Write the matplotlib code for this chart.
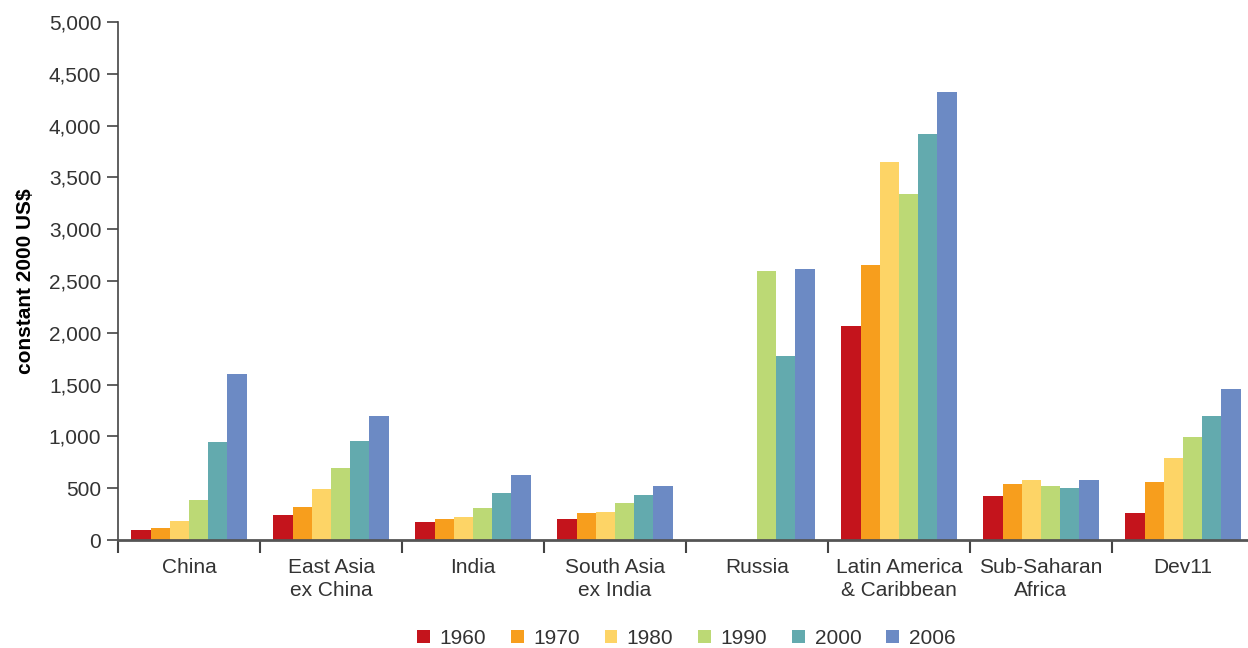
import numpy as np
import matplotlib.pyplot as plt
from matplotlib.ticker import FuncFormatter

# ================================
# DATA
# ================================
regions = ["China", "East Asia\nex China", "India", "South Asia\nex India",
           "Russia", "Latin America\n& Caribbean", "Sub-Saharan\nAfrica", "Dev11"]
years = ["1960", "1970", "1980", "1990", "2000", "2006"]

v1960 = [100, 245, 177, 206, np.nan, 2069, 428, 264]
v1970 = [119, 322, 206, 264, np.nan, 2658, 544, 563]
v1980 = [187, 496, 225, 274, np.nan, 3652, 582, 795]
v1990 = [389, 698, 312, 360, 2600, 3343, 525, 998]
v2000 = [949, 959, 457, 438, 1780, 3922, 505, 1200]
v2006 = [1600, 1200, 631, 525, 2619, 4327, 582, 1461]

series = [v1960, v1970, v1980, v1990, v2000, v2006]
colors = ["#C4141C", "#F79E1D", "#FDD466", "#BCD975", "#63AAAE", "#6C8AC4"]

# ================================
# PLOT
# ================================
plt.rcParams['font.family'] = ['Liberation Sans', 'DejaVu Sans']

fig = plt.figure(figsize=(12.48, 6.48), dpi=100)
# plot area runs a little past the right edge, as in the original
ax = fig.add_axes([118/1248, 108/648, 1136/1248, (540 - 22)/648])

x = np.arange(len(regions)) + 0.5
w = 0.135
for i, (vals, c, yr) in enumerate(zip(series, colors, years)):
    ax.bar(x + (i - 2.5) * w, vals, width=w, color=c, label=yr, linewidth=0)

ax.set_xlim(0, len(regions))
ax.set_ylim(0, 5000)
ax.set_yticks(np.arange(0, 5001, 500))
ax.yaxis.set_major_formatter(FuncFormatter(lambda v, p: f"{int(v):,}"))

ax.set_xticks(np.arange(0, len(regions) + 1))
ax.set_xticklabels([])
ax.set_xticks(x, minor=True)
ax.set_xticklabels(regions, minor=True, linespacing=1.25)
ax.tick_params(axis='x', which='minor', length=0, pad=13, labelsize=15, labelcolor='#333333')
ax.tick_params(axis='x', which='major', length=9, width=1.5, color='#444444', direction='out')
ax.tick_params(axis='y', length=8, width=1.2, color='#444444', labelsize=15,
               labelcolor='#333333', pad=4)

for s in ['top', 'right']:
    ax.spines[s].set_visible(False)
ax.spines['left'].set_color('#444444')
ax.spines['left'].set_linewidth(1.2)
ax.spines['bottom'].set_color('#555555')
ax.spines['bottom'].set_linewidth(2)

ax.set_ylabel("constant 2000 US$", fontsize=15, fontweight='bold', labelpad=10)

ax.legend(loc='upper center', bbox_to_anchor=(0.5, -0.135), ncol=6, frameon=False,
          fontsize=15, handlelength=0.62, handleheight=0.62, handletextpad=0.45,
          columnspacing=1.2, labelcolor='#333333')

fig.savefig("out.png", dpi=100)
